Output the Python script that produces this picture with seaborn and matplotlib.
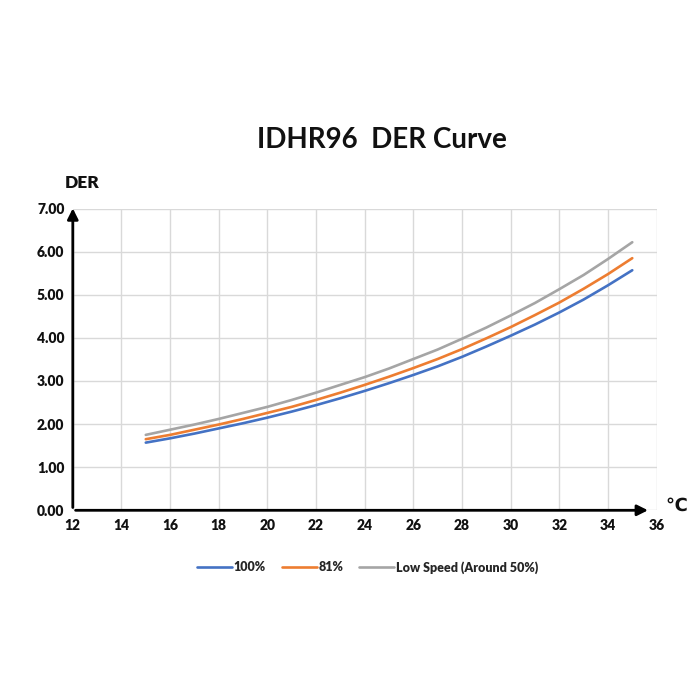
import matplotlib
matplotlib.use("Agg")
import matplotlib.pyplot as plt
import seaborn as sns
import pandas as pd

temps = [15, 16, 17, 18, 19, 20, 21, 22, 23, 24, 25, 26, 27, 28, 29, 30, 31, 32, 33, 34, 35]
der_100 = [1.57, 1.67, 1.78, 1.90, 2.02, 2.15, 2.29, 2.44, 2.60, 2.77, 2.95, 3.14, 3.34, 3.56, 3.80, 4.05, 4.31, 4.59, 4.89, 5.22, 5.57]
der_81 = [1.65, 1.75, 1.87, 1.99, 2.12, 2.26, 2.40, 2.56, 2.73, 2.91, 3.10, 3.30, 3.51, 3.74, 3.99, 4.25, 4.53, 4.82, 5.14, 5.48, 5.85]
der_low = [1.75, 1.87, 1.99, 2.12, 2.26, 2.40, 2.56, 2.73, 2.91, 3.09, 3.29, 3.51, 3.73, 3.98, 4.24, 4.52, 4.81, 5.13, 5.46, 5.83, 6.22]
series_names = ["100%", "81%", "Low Speed (Around 50%)"]
colors = ["#4472C4", "#ED7D31", "#A5A5A5"]
x_ticks = [12, 14, 16, 18, 20, 22, 24, 26, 28, 30, 32, 34, 36]
y_ticks = [0, 1, 2, 3, 4, 5, 6, 7]

sns.set_theme(style="white")
plt.rcParams['font.family'] = ['Lato', 'DejaVu Sans']

df = pd.DataFrame({
    "temp": temps * 3,
    "der": der_100 + der_81 + der_low,
    "series": [series_names[0]] * len(temps) + [series_names[1]] * len(temps) + [series_names[2]] * len(temps),
})

fig = plt.figure(figsize=(7, 7), dpi=100)
ax = fig.add_axes([0.104, 0.271, 0.834, 0.431])
sns.lineplot(data=df, x="temp", y="der", hue="series", palette=colors,
             hue_order=series_names, linewidth=1.9, ax=ax, legend=True)

ax.set_xlim(12, 36)
ax.set_ylim(0, 7)
ax.set_xticks(x_ticks)
ax.set_yticks(y_ticks)
ax.set_yticklabels([f"{v:.2f}" for v in y_ticks])
ax.grid(True, color="#D9D9D9", linewidth=1)
for s in ax.spines.values():
    s.set_visible(False)
ax.tick_params(axis="both", length=0, labelsize=10, pad=6)
for lab in ax.get_xticklabels() + ax.get_yticklabels():
    lab.set_fontweight("heavy")
    lab.set_color("#111111")
ax.set_xlabel("")
ax.set_ylabel("")

# axis arrows
ax.annotate("", xy=(0, 1.01), xytext=(0, 0), xycoords="axes fraction",
            arrowprops=dict(arrowstyle="-|>", color="black", lw=2, mutation_scale=16))
ax.annotate("", xy=(0.99, 0), xytext=(0, 0), xycoords="axes fraction",
            arrowprops=dict(arrowstyle="-|>", color="black", lw=2, mutation_scale=16))

fig.text(0.546, 0.80, "IDHR96  DER Curve", ha="center", va="center",
         fontsize=20, fontweight="bold", color="#111111")
fig.text(0.093, 0.738, "DER", ha="left", va="center", fontsize=12.5,
         fontweight="heavy", color="#111111")
fig.text(0.966, 0.278, "℃", ha="center", va="center", fontsize=13,
         fontweight="bold", color="#111111", family=["DejaVu Sans"])

handles, labels = ax.get_legend_handles_labels()
ax.legend(handles, labels, loc="upper center", bbox_to_anchor=(0.505, -0.13),
          ncol=3, frameon=False,
          prop={"weight": "heavy", "size": 9}, handlelength=2.8,
          columnspacing=1.3, handletextpad=0.1)

fig.savefig("out.png", dpi=100, facecolor="white")
